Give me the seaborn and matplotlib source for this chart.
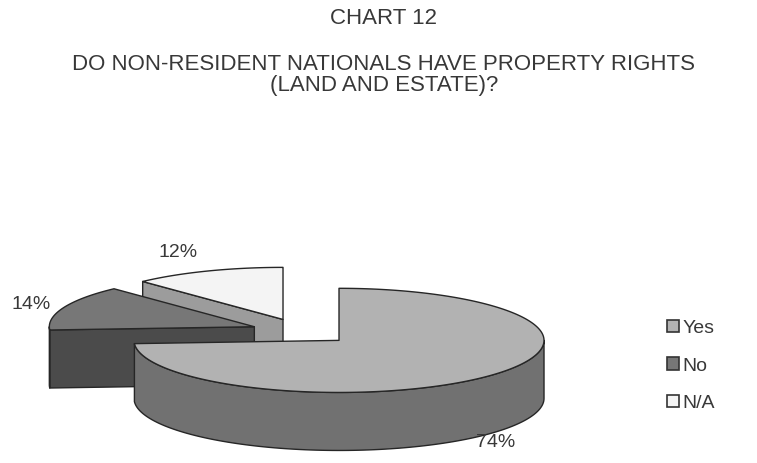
import numpy as np
import matplotlib.pyplot as plt
from matplotlib.patches import Polygon, Patch
import seaborn as sns

# ── Data ──────────────────────────────────────────────────────────────────────
TITLE = "CHART 12"
QUESTION = "DO NON-RESIDENT NATIONALS HAVE PROPERTY RIGHTS\n(LAND AND ESTATE)?"
categories = ["Yes", "No", "N/A"]
shares = [74, 14, 12]

# ── Style ─────────────────────────────────────────────────────────────────────
TOP_COLORS  = ["#b2b2b2", "#777777", "#f4f4f4"]
WALL_COLORS = ["#717171", "#4b4b4b", "#9c9c9c"]
EDGE = "#262626"
RY      = 0.254   # ellipse squash (tilt of the pie)
DEPTH   = 0.283   # thickness of the pie
EXPLODE = 0.249
LABEL_K = [1.05, 1.17, 1.39]
LABEL_DROP = 0.035  # extra gap under the wall for front labels
SCALE = 205       # pixels per pie radius
CX, CY = 301.8, 331.5

sns.set_theme(style="white")
plt.rcParams["font.family"] = ["Liberation Sans", "DejaVu Sans"]

fig = plt.figure(figsize=(7.57, 4.63), dpi=100)
ax = fig.add_axes([0, 0, 1, 1])
ax.set_xlim(-CX / SCALE, (757 - CX) / SCALE)
ax.set_ylim((CY - 463) / SCALE, CY / SCALE)
ax.set_aspect("equal")
ax.axis("off")


def rim(t, ox, oy, z=0.0):
    t = np.radians(t)
    return np.column_stack([ox + np.sin(t), oy + RY * np.cos(t) - z])


# angles run clockwise from 12 o'clock
fracs = np.array(shares, dtype=float) / sum(shares)
ends = np.cumsum(fracs) * 360
starts = ends - fracs * 360
mids = (starts + ends) / 2
offs = [(EXPLODE * np.sin(np.radians(m)), EXPLODE * RY * np.cos(np.radians(m))) for m in mids]

# back to front
order = sorted(range(len(shares)), key=lambda i: -offs[i][1])
for i in order:
    t0, t1 = starts[i], ends[i]
    ox, oy = offs[i]
    apex = np.array([[ox, oy]])
    kw = dict(ec=EDGE, lw=1.0, joinstyle="round")
    # radial faces that look toward the viewer
    for t, vis in ((t0, np.sin(np.radians(t0)) < -1e-6), (t1, np.sin(np.radians(t1)) > 1e-6)):
        if vis:
            p = rim([t], ox, oy)
            face = np.vstack([apex, p, p - [0, DEPTH], apex - [0, DEPTH]])
            ax.add_patch(Polygon(face, fc=WALL_COLORS[i], **kw))
    # outer wall, front half only
    a, b = max(t0, 90), min(t1, 270)
    if b > a:
        ts = np.linspace(a, b, 120)
        wall = np.vstack([rim(ts, ox, oy), rim(ts[::-1], ox, oy, DEPTH)])
        ax.add_patch(Polygon(wall, fc=WALL_COLORS[i], **kw))
    # top face
    ts = np.linspace(t0, t1, 200)
    ax.add_patch(Polygon(np.vstack([apex, rim(ts, ox, oy)]), fc=TOP_COLORS[i], **kw))

# percentage labels
for i, m in enumerate(mids):
    ox, oy = offs[i]
    r = np.radians(m)
    x = ox + LABEL_K[i] * np.sin(r)
    y = oy + LABEL_K[i] * RY * np.cos(r) - (DEPTH + LABEL_DROP if np.cos(r) < 0 else 0)
    ax.text(x, y, f"{shares[i]}%", ha="center", va="center", fontsize=14, color="#383838")

# titles
fig.text(384 / 757, 1 - 18 / 463, TITLE, ha="center", va="center", fontsize=16, color="#383838")
fig.text(384 / 757, 1 - 75 / 463, QUESTION, ha="center", va="center", fontsize=16,
         color="#383838", linespacing=1.05)

handles = [Patch(fc=TOP_COLORS[i], ec="#333333", lw=1.2) for i in range(len(categories))]
ax.legend(handles, categories, loc="center left", bbox_to_anchor=(667 / 757, 1 - 366 / 463),
          bbox_transform=fig.transFigure, frameon=False, fontsize=14,
          handlelength=0.6, handleheight=0.6, handletextpad=0.2, labelspacing=1.05,
          borderpad=0, borderaxespad=0, labelcolor="#383838")

fig.savefig("out.png", dpi=100)
